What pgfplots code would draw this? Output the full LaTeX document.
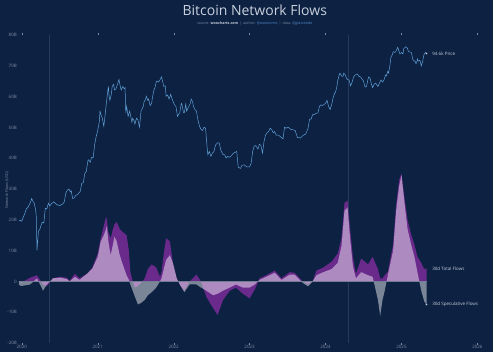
\documentclass[border=0pt]{standalone}
\usepackage{fontspec}
\setmainfont{Open Sans}
\usepackage{pgfplots}
\usepackage{pgfplotstable}
\pgfplotsset{compat=1.18}
\definecolor{bg}{RGB}{13,33,66}
\definecolor{pricec}{RGB}{95,160,215}
\definecolor{totc}{RGB}{106,42,140}
\definecolor{txt}{RGB}{200,208,220}
\definecolor{tickc}{RGB}{125,140,165}
\definecolor{halv}{RGB}{38,58,92}
\definecolor{zeroc}{RGB}{115,125,145}
\definecolor{linkc}{RGB}{80,140,205}
\newcommand{\tk}{\fontsize{4.5}{5.5}\selectfont}

\pgfplotstableread{
date T S
2019.96 0.00 -0.10
2019.99 -0.05 -0.15
2020.11 0.12 -0.10
2020.20 0.20 0.10
2020.28 -0.10 -0.30
2020.33 -0.15 -0.10
2020.41 0.10 0.10
2020.50 0.15 0.12
2020.59 0.12 0.08
2020.63 0.02 0.00
2020.70 0.25 0.15
2020.76 0.10 0.05
2020.86 0.25 0.25
2020.93 0.45 0.42
2021.00 0.90 0.80
2021.04 1.40 1.30
2021.08 1.80 1.50
2021.11 2.10 1.70
2021.12 2.00 1.80
2021.14 1.60 1.30
2021.17 1.40 0.85
2021.20 1.70 1.20
2021.22 1.85 1.45
2021.25 1.93 1.30
2021.29 1.70 0.85
2021.33 1.60 0.55
2021.38 1.50 0.20
2021.41 1.00 0.05
2021.43 0.30 -0.10
2021.46 0.00 -0.30
2021.49 -0.20 -0.50
2021.53 -0.15 -0.75
2021.57 -0.05 -0.70
2021.62 0.10 -0.60
2021.66 0.40 -0.45
2021.71 0.55 -0.35
2021.77 0.45 -0.20
2021.82 0.15 0.00
2021.84 0.30 0.10
2021.87 0.90 0.40
2021.90 1.40 0.70
2021.95 1.30 0.85
2021.99 0.60 0.60
2022.04 0.10 0.10
2022.08 -0.10 -0.10
2022.14 -0.30 -0.35
2022.21 0.00 -0.10
2022.30 0.22 -0.10
2022.36 0.00 -0.20
2022.43 -0.50 -0.30
2022.52 -0.87 -0.45
2022.58 -1.09 -0.40
2022.65 -0.60 -0.30
2022.74 -0.30 -0.20
2022.82 -0.20 -0.10
2022.91 -0.40 -0.20
2023.00 -0.55 -0.20
2023.07 -0.25 -0.10
2023.13 0.10 0.05
2023.22 0.20 0.15
2023.33 0.35 0.28
2023.42 0.10 0.05
2023.53 0.30 0.22
2023.59 0.28 0.22
2023.70 0.00 -0.05
2023.77 -0.10 -0.16
2023.83 0.00 0.00
2023.88 0.35 0.20
2023.97 0.45 0.30
2024.08 0.64 0.40
2024.16 0.90 0.60
2024.21 1.40 1.15
2024.25 2.55 2.30
2024.29 2.62 2.40
2024.32 1.80 1.50
2024.36 0.80 0.50
2024.40 0.25 0.10
2024.47 0.74 0.30
2024.56 0.55 0.20
2024.62 0.80 0.15
2024.69 0.40 -0.60
2024.72 0.10 -1.12
2024.75 0.10 -0.60
2024.78 0.20 -0.30
2024.82 0.30 0.20
2024.89 1.20 1.00
2024.93 2.50 2.30
2024.97 3.30 3.10
2025.00 3.50 3.45
2025.04 2.70 2.55
2025.08 2.00 1.70
2025.13 1.50 1.17
2025.17 1.20 0.80
2025.21 0.80 0.30
2025.26 0.60 -0.30
2025.30 0.40 -0.65
2025.33 0.42 -0.75
}\flows

\pgfplotstableread{
date P
2019.96 7200
2019.98 7300
2020.00 7200
2020.02 7700
2020.04 8100
2020.06 8700
2020.08 8900
2020.10 9300
2020.12 9800
2020.13 10200
2020.15 9700
2020.16 9600
2020.18 8700
2020.19 7900
2020.20 4600
2020.21 5400
2020.22 6200
2020.24 6400
2020.25 6700
2020.27 7100
2020.29 7000
2020.31 8800
2020.33 8700
2020.35 9500
2020.37 9100
2020.38 9300
2020.42 9700
2020.44 9500
2020.46 9300
2020.50 9150
2020.54 9400
2020.56 9700
2020.58 11100
2020.60 11600
2020.62 11800
2020.64 11300
2020.65 11500
2020.67 10200
2020.69 10300
2020.71 10700
2020.73 10800
2020.77 11400
2020.79 12900
2020.81 13000
2020.83 15000
2020.85 15500
2020.87 18200
2020.88 18500
2020.90 17800
2020.92 19200
2020.94 19100
2020.96 23500
2020.98 26500
2021.00 29000
2021.02 33000
2021.03 39000
2021.05 36000
2021.06 35000
2021.08 31000
2021.09 34000
2021.10 38000
2021.12 47000
2021.14 57000
2021.15 49000
2021.16 46000
2021.18 51000
2021.19 57000
2021.21 59000
2021.22 54000
2021.24 55000
2021.26 59000
2021.28 63500
2021.30 56000
2021.31 54000
2021.33 57000
2021.35 55000
2021.36 56000
2021.37 38000
2021.38 42000
2021.40 36000
2021.42 39000
2021.43 37000
2021.45 33000
2021.46 35000
2021.48 33500
2021.49 32000
2021.51 35000
2021.53 34000
2021.55 30500
2021.57 39000
2021.58 40000
2021.60 42000
2021.61 45000
2021.63 47000
2021.64 49000
2021.66 46000
2021.67 47000
2021.69 42500
2021.71 44000
2021.72 48000
2021.74 54000
2021.75 55000
2021.77 61000
2021.78 62000
2021.80 61000
2021.82 63000
2021.84 66000
2021.86 60000
2021.87 57000
2021.89 57500
2021.90 49000
2021.92 50000
2021.94 47000
2021.96 50500
2021.98 47000
2022.01 43000
2022.03 42000
2022.05 36000
2022.07 37500
2022.08 38000
2022.10 44000
2022.11 43000
2022.13 38000
2022.14 38000
2022.16 43500
2022.17 39000
2022.19 41000
2022.20 42000
2022.22 44000
2022.23 47000
2022.25 45000
2022.26 42000
2022.28 40000
2022.30 39000
2022.32 34000
2022.34 31000
2022.36 29500
2022.38 29000
2022.40 30500
2022.42 30000
2022.44 22500
2022.45 20000
2022.47 21000
2022.49 19500
2022.51 20500
2022.53 21000
2022.55 23000
2022.56 23500
2022.58 24000
2022.60 24000
2022.62 21500
2022.63 21000
2022.65 20000
2022.67 20000
2022.69 19000
2022.71 19500
2022.73 19200
2022.75 19500
2022.79 20500
2022.83 21000
2022.85 16500
2022.88 16200
2022.90 17000
2022.93 17100
2022.96 16600
2023.00 16600
2023.02 17500
2023.04 21000
2023.06 22800
2023.08 23000
2023.11 21800
2023.13 23500
2023.15 23000
2023.17 20500
2023.19 24500
2023.21 27000
2023.23 28000
2023.25 28500
2023.27 30000
2023.29 29500
2023.31 28000
2023.33 28500
2023.35 27000
2023.38 27000
2023.40 26500
2023.42 26000
2023.44 25500
2023.46 30500
2023.48 30000
2023.50 30500
2023.52 30200
2023.54 29500
2023.57 29300
2023.60 29000
2023.63 26000
2023.65 26000
2023.67 25800
2023.69 26500
2023.71 27000
2023.74 27500
2023.77 30000
2023.79 34500
2023.81 34500
2023.83 37000
2023.85 37000
2023.88 37800
2023.90 38000
2023.92 42000
2023.94 43000
2023.96 42500
2024.00 44000
2024.02 46000
2024.04 42000
2024.06 40000
2024.08 43000
2024.10 48000
2024.12 51500
2024.13 52000
2024.15 57000
2024.16 62000
2024.18 68000
2024.19 70000
2024.21 67000
2024.23 66500
2024.24 70000
2024.26 68000
2024.28 64000
2024.30 63000
2024.31 63000
2024.33 57500
2024.35 61000
2024.37 66000
2024.38 67000
2024.40 68500
2024.42 69000
2024.44 66500
2024.46 66000
2024.48 64000
2024.50 62000
2024.52 56500
2024.54 57000
2024.56 64000
2024.57 66000
2024.59 64000
2024.60 60000
2024.62 56000
2024.64 59000
2024.66 60000
2024.68 58000
2024.69 57000
2024.71 60000
2024.73 63000
2024.75 61000
2024.77 63000
2024.79 68000
2024.80 67000
2024.82 72000
2024.83 70000
2024.85 80000
2024.86 89000
2024.88 93000
2024.89 97000
2024.91 96000
2024.92 97000
2024.94 101000
2024.95 104000
2024.97 97000
2024.98 94000
2025.00 96000
2025.02 94000
2025.03 102000
2025.05 104000
2025.06 105000
2025.08 102000
2025.09 98000
2025.10 97000
2025.12 96500
2025.13 96000
2025.14 91000
2025.15 86000
2025.17 84000
2025.18 84000
2025.19 81000
2025.20 82000
2025.21 87000
2025.22 84000
2025.24 85000
2025.25 83000
2025.26 78000
2025.27 81000
2025.28 84000
2025.29 90000
2025.30 94000
2025.32 96000
2025.33 94600
}\price

\begin{document}
\begin{tikzpicture}[x=1pt,y=1pt]
\fill[bg] (-18,-9) rectangle (475,343);
\useasboundingbox (-18,-9) rectangle (475,343);

\node[font=\fontsize{14}{16}\selectfont, text=txt] at (236.8,333) {Bitcoin Network Flows};
\node[font=\fontsize{3.6}{4}\selectfont, text=tickc] at (236.8,319.5)
  {source: \textcolor{txt}{\bfseries woocharts.com} \,|\, author: \textcolor{linkc}{@woonomic} \,|\, data: \textcolor{linkc}{@glassnode}};
\node[font=\fontsize{3.8}{4}\selectfont, text=tickc, rotate=90] at (-11,153) {Network Flows (USD)};

\begin{axis}[
  at={(0,0)}, anchor=south west, scale only axis,
  width=467pt, height=308pt,
  xmin=2019.95, xmax=2026.1, ymin=-2, ymax=8,
  axis line style={draw=none},
  xtick={2020,2021,2022,2023,2024,2025,2026},
  xticklabels={2020,2021,2022,2023,2024,2025,2026},
  ytick={-2,-1,0,1,2,3,4,5,6,7,8},
  yticklabels={-20B,-10B,0,10B,20B,30B,40B,50B,60B,70B,80B},
  tick label style={font=\tk, text=tickc},
  yticklabel style={inner sep=0.5pt, xshift=1.5pt},
  xticklabel style={inner sep=0.5pt},
  tick align=outside,
  major tick length=2pt,
  xtick style={draw=tickc, line width=0.3pt},
  ytick style={draw=none},
  extra x ticks={2020.36,2024.30},
  extra x tick labels={},
  extra x tick style={grid=major, major grid style={draw=halv, line width=0.6pt}, major tick length=0pt},
  clip=false,
]
\addplot[fill=totc, draw=none] table[x=date, y=T] {\flows} \closedcycle;
\addplot[fill=white, fill opacity=0.45, draw=none] table[x=date, y=S] {\flows} \closedcycle;
\addplot[zeroc, line width=0.5pt] coordinates {(2019.96,0) (2025.33,0)};
\addplot[only marks, mark=*, mark size=0.6pt, color=txt] coordinates {(2025.33,-0.75)};
\node[font=\tk, text=txt, anchor=west] at (axis cs:2025.36,0.42) {30d Total Flows};
\node[font=\tk, text=txt, anchor=west] at (axis cs:2025.36,-0.75) {30d Speculative Flows};
\end{axis}

\begin{axis}[
  at={(0,0)}, anchor=south west, scale only axis,
  width=467pt, height=308pt,
  xmin=2019.95, xmax=2026.1,
  ymode=log, ymin=1111, ymax=125600,
  hide axis, clip=false,
]
\addplot[pricec, line width=0.5pt] table[x=date, y=P] {\price};
\addplot[only marks, mark=*, mark size=0.6pt, color=txt] coordinates {(2025.33,94600)};
\node[font=\tk, text=txt, anchor=west] at (axis cs:2025.36,94600) {94.6k Price};
\end{axis}
\end{tikzpicture}
\end{document}
